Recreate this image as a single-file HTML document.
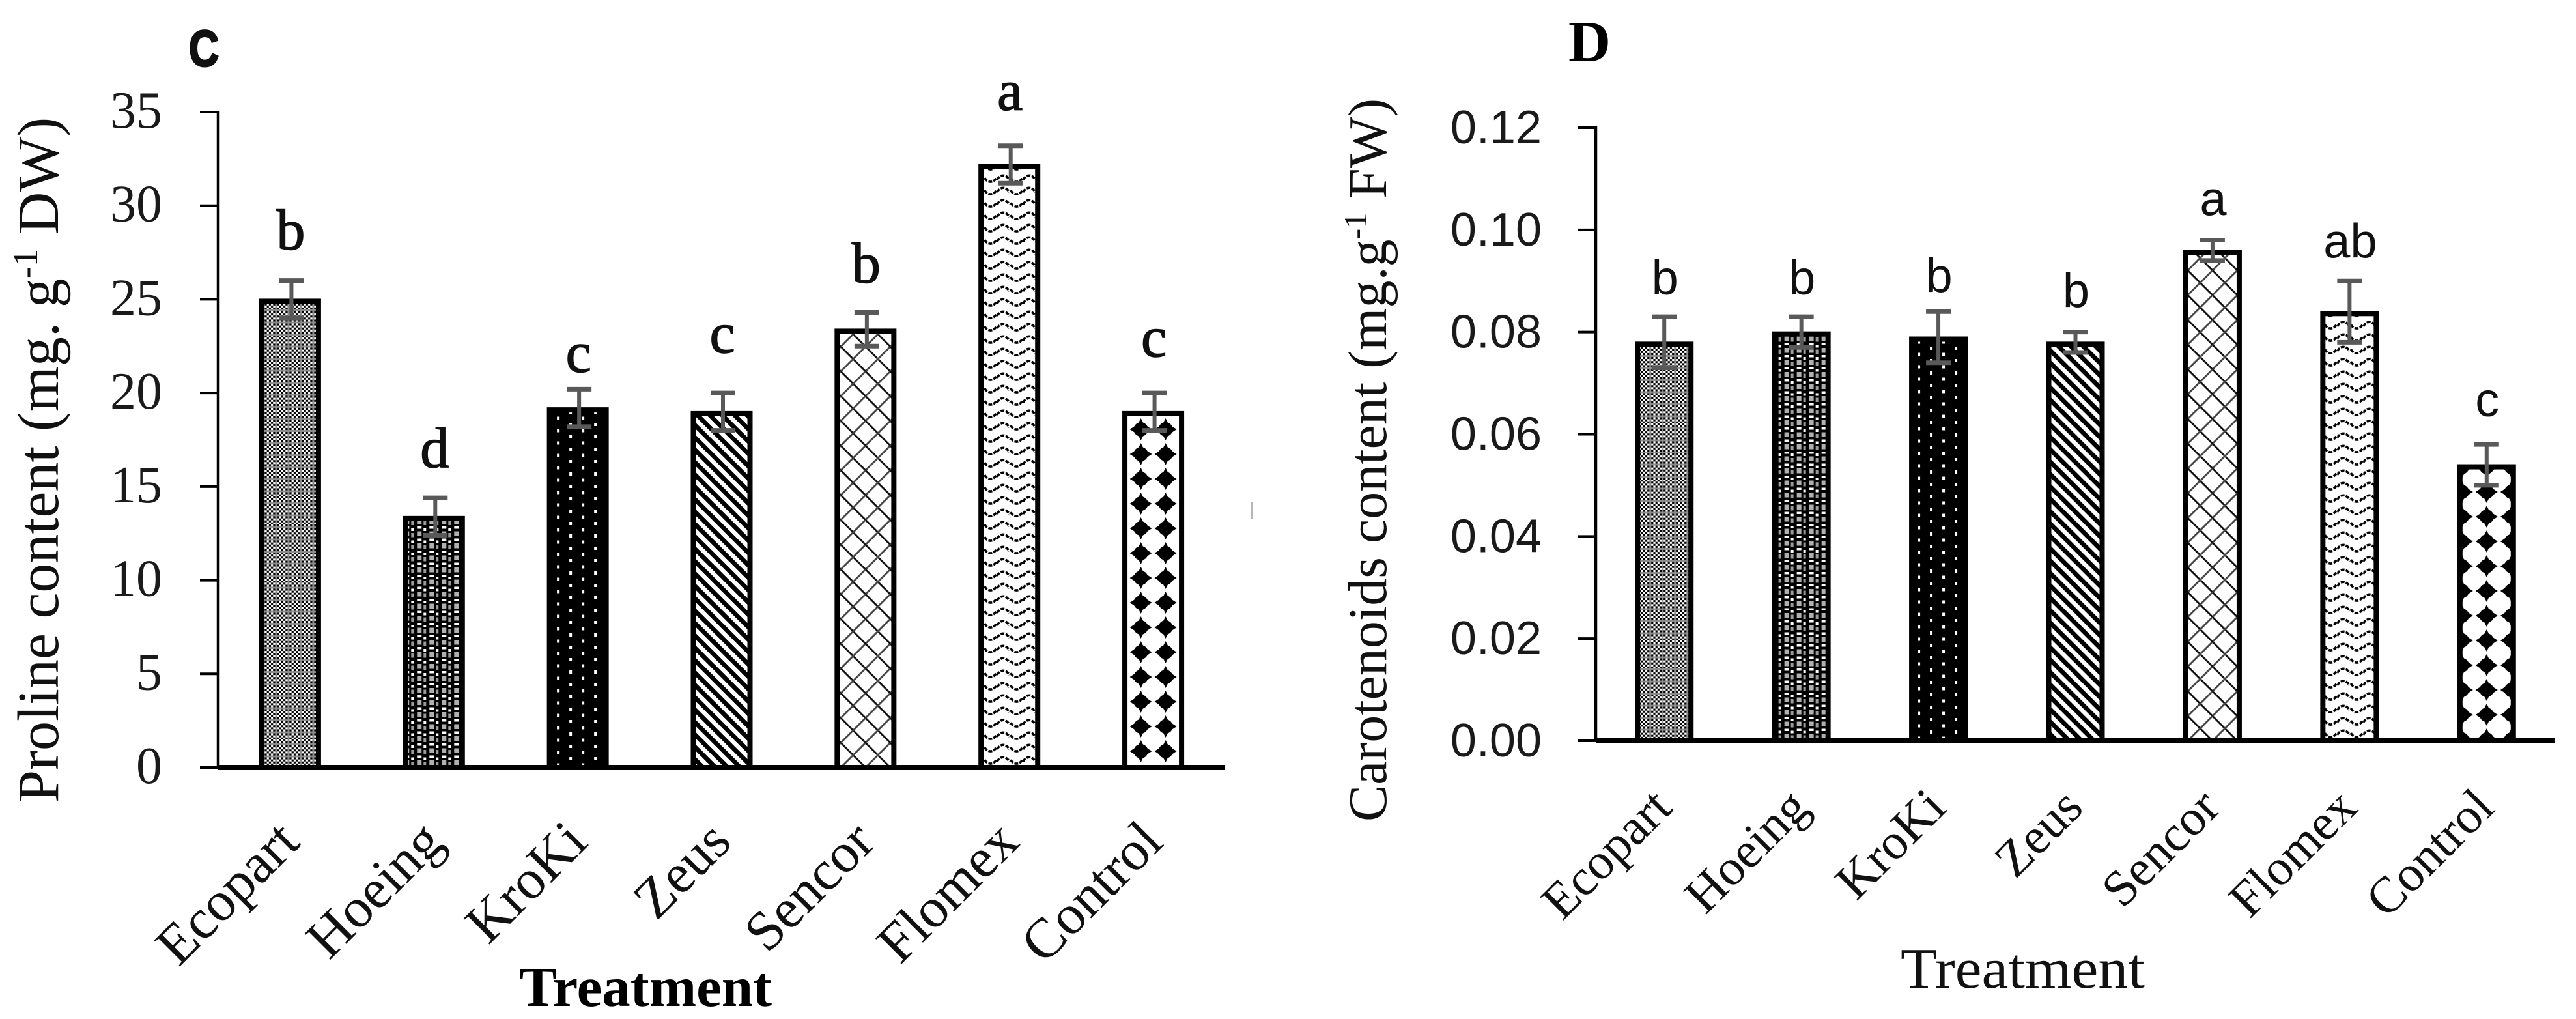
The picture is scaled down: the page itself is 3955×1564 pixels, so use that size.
<!DOCTYPE html>
<html lang="en">
<head>
<meta charset="utf-8">
<title>Proline and carotenoids content by treatment</title>
<style>
html,body{margin:0;padding:0;background:#fff;}
body{width:3955px;height:1564px;overflow:hidden;}
svg{display:block;}
.serif{font-family:"Liberation Serif",serif;}
.sans{font-family:"Liberation Sans",sans-serif;}
</style>
</head>
<body>
<svg id="figure" xmlns="http://www.w3.org/2000/svg" width="3955" height="1564" viewBox="0 0 3955 1564">
  <rect width="3955" height="1564" fill="#fff"/>
  <defs id="fills"></defs>

  <g id="chart-c">
    <text class="sans" x="290" y="101" font-size="78" font-weight="bold" textLength="46" lengthAdjust="spacingAndGlyphs" fill="#111" stroke="#111" stroke-width="3">C</text>
    <text class="serif" transform="translate(89 1232) rotate(-90)" font-size="90" fill="#111">Proline content (mg. g<tspan dy="-32" font-size="54">-1</tspan><tspan dy="32"> DW)</tspan></text>
    <text class="serif" x="797" y="1544" font-size="87" font-weight="bold" fill="#000">Treatment</text>
  </g>

  <g id="chart-d">
    <text class="serif" x="2408" y="94" font-size="90" font-weight="bold" fill="#000">D</text>
    <text class="serif" transform="translate(2128 1261) rotate(-90)" font-size="84" fill="#111">Carotenoids content (mg.g<tspan dy="-30" font-size="50">-1</tspan><tspan dy="30"> FW)</tspan></text>
    <text class="serif" x="2918" y="1516" font-size="88" textLength="375" lengthAdjust="spacingAndGlyphs" fill="#111">Treatment</text>
  </g>

  <rect x="1921" y="770" width="3" height="26" fill="#b5b5b5"/>
</svg>

<script>
const categories = ["Ecopart", "Hoeing", "KroKi", "Zeus", "Sencor", "Flomex", "Control"];

const prolineTicks = ["0", "5", "10", "15", "20", "25", "30", "35"];
const prolineValues = [25.0, 13.4, 19.2, 19.0, 23.4, 32.2, 19.0];
const prolineErrors = [1.0, 1.0, 1.0, 1.0, 0.9, 1.0, 1.0];
const prolineLetters = ["b", "d", "c", "c", "b", "a", "c"];

const carotenoidTicks = ["0.00", "0.02", "0.04", "0.06", "0.08", "0.10", "0.12"];
const carotenoidValues = [0.078, 0.080, 0.079, 0.078, 0.096, 0.084, 0.054];
const carotenoidErrors = [0.005, 0.003, 0.005, 0.002, 0.002, 0.006, 0.004];
const carotenoidLetters = ["b", "b", "b", "b", "a", "ab", "c"];

const SVG_NS = "http://www.w3.org/2000/svg";

function make(parent, tag, attrs) {
  const node = document.createElementNS(SVG_NS, tag);
  for (const key in attrs) node.setAttribute(key, attrs[key]);
  parent.appendChild(node);
  return node;
}

/* Hatch artwork, one builder per treatment */
function ecopartArt() {
  let s = '<rect width="19" height="18.5" fill="#fff"/>';
  for (let r = 0; r < 5; r++) {
    for (let c = 0; c < 5; c++) {
      if ((r + c) % 2 === 0) {
        s += '<rect x="' + (3 + c * 3.2) + '" y="' + (3 + r * 3.1) + '" width="3.2" height="3.1" fill="#000"/>';
      }
    }
  }
  s += '<rect width="3" height="18.5" fill="#8c8c8c"/><rect width="19" height="3" fill="#8c8c8c"/>';
  return { w: 19, h: 18.5, dx: -4, art: s };
}
function hoeingArt() {
  const s = '<rect width="19" height="18.5" fill="#000"/>' +
    '<rect x="0" y="0" width="7" height="3.5" fill="#fff"/>' +
    '<rect x="0" y="7.5" width="7" height="7.5" fill="#b0b0b0"/>' +
    '<rect x="10" y="3" width="4" height="4" fill="#fff"/>' +
    '<rect x="10" y="10" width="4" height="6.5" fill="#9a9a9a"/>';
  return { w: 19, h: 18.5, dx: -7, art: s };
}
function krokiArt() {
  const s = '<rect width="38" height="19" fill="#000"/>' +
    '<rect x="3" y="3" width="4" height="5" fill="#fff"/>' +
    '<rect x="22" y="12.5" width="4" height="5" fill="#fff"/>';
  return { w: 38, h: 19, dx: -16, art: s };
}
function zeusArt() {
  const s = '<rect width="19" height="19" fill="#000"/>' +
    '<path d="M-5 -5L24 24M-5 14L5 24M14 -5L24 5" stroke="#fff" stroke-width="6.5" fill="none"/>';
  return { w: 19, h: 19, dx: 0, art: s };
}
function sencorArt() {
  const s = '<rect width="38" height="38" fill="#fff"/>' +
    '<path d="M-2 -2L40 40" stroke="#111" stroke-width="2.8" fill="none"/>' +
    '<path d="M-2 40L40 -2" stroke="#444" stroke-width="2.8" fill="none"/>';
  return { w: 38, h: 38, dx: 0, art: s };
}
function flomexArt() {
  const s = '<rect width="40" height="19" fill="#fff"/>' +
    '<path d="M0 10C5 1 14 1 19 10" stroke="#000" stroke-width="3.6" fill="none" stroke-dasharray="6 2"/>' +
    '<path d="M21 7C25 15 35 15 39 7" stroke="#000" stroke-width="3.6" fill="none" stroke-dasharray="6 2"/>';
  return { w: 40, h: 19, dx: -19, art: s };
}
function controlArt() {
  const s = '<rect width="38" height="38" fill="#fff"/>' +
    '<path d="M19 2L23 10Q28 14 36 19Q28 24 23 28L19 36L15 28Q10 24 2 19Q10 14 15 10Z" fill="#000"/>' +
    '<circle cx="19" cy="19" r="11" fill="#000"/>';
  return { w: 38, h: 38, dx: -19, art: s };
}
const fillBuilders = [ecopartArt, hoeingArt, krokiArt, zeusArt, sencorArt, flomexArt, controlArt];

function addFill(defs, id, build, originX, originY) {
  const spec = build();
  const pat = make(defs, "pattern", {
    id: id,
    patternUnits: "userSpaceOnUse",
    width: spec.w,
    height: spec.h,
    patternTransform: "translate(" + (originX + spec.dx) + " " + originY + ")"
  });
  pat.innerHTML = spec.art;
}

function drawChart(c) {
  const group = document.getElementById(c.groupId);
  const defs = document.getElementById("fills");
  const tickNumbers = c.ticks.map(Number);
  const maxTick = Math.max.apply(null, tickNumbers);
  const yScale = v => c.base - (v / maxTick) * (c.base - c.top);
  const step = (c.endX - c.axisX) / categories.length;
  const xScale = i => c.axisX + (i + 0.5) * step;

  categories.forEach((name, i) => {
    const cx = xScale(i);
    const topY = yScale(c.values[i]);
    const fillId = c.key + "-fill-" + i;
    const extraX = i === 6 ? c.controlShift : 0;
    const extraY = i === 6 ? c.controlShiftY : 0;
    addFill(defs, fillId, fillBuilders[i], cx + extraX, c.base + extraY);

    const bar = make(group, "rect", {
      x: cx - c.barW / 2 + 4,
      y: topY + 3,
      width: c.barW - 8,
      height: c.base - topY - 3,
      fill: "url(#" + fillId + ")",
      stroke: "#000",
      "stroke-width": 8
    });
    
    
  });

  const baseline = make(group, "line", {
    x1: c.axisX, x2: c.endX, y1: c.base, y2: c.base, stroke: "#000", "stroke-width": 8
  });
  
  

  const axis = make(group, "line", {
    x1: c.axisX, x2: c.axisX, y1: c.top - 2, y2: c.base, stroke: "#000", "stroke-width": 4.5
  });
  
  

  c.ticks.forEach((label, i) => {
    const y = yScale(tickNumbers[i]);
    const tick = make(group, "line", {
      x1: c.axisX - 28, x2: c.axisX, y1: y, y2: y, stroke: "#000", "stroke-width": 4
    });
    
    

    const text = make(group, "text", {
      x: c.tickLabelX, y: y + 24, "text-anchor": "end",
      "font-size": c.tickFont, "font-family": c.tickFamily, fill: "#1a1a1a"
    });
    text.textContent = label;
    
    
  });

  categories.forEach((name, i) => {
    const cx = xScale(i);
    const hi = yScale(c.values[i] + c.errors[i]);
    const lo = yScale(c.values[i] - c.errors[i]);
    const ex = cx + c.errShift;

    const stem = make(group, "line", {
      x1: ex, x2: ex, y1: hi, y2: lo, stroke: "#595959", "stroke-width": 6
    });
    
    

    const capTop = make(group, "line", {
      x1: ex - 19, x2: ex + 19, y1: hi, y2: hi, stroke: "#595959", "stroke-width": 7
    });
    
    

    const capLow = make(group, "line", {
      x1: ex - 19, x2: ex + 19, y1: lo, y2: lo, stroke: "#595959", "stroke-width": 7
    });
    
    

    const letter = make(group, "text", {
      x: cx + 1, y: hi - c.letterLift[i], "text-anchor": "middle",
      "font-size": c.letterFont, "font-family": c.letterFamily,
      stroke: "#111", "stroke-width": c.letterStroke, fill: "#111"
    });
    letter.textContent = c.letters[i];
    
    

    const ax = cx + c.catShiftX;
    const cat = make(group, "text", {
      x: ax, y: c.catY, "text-anchor": "end",
      transform: "rotate(-45 " + ax + " " + c.catY + ")",
      "font-size": c.catFont, "font-family": '"Liberation Serif",serif', fill: "#111"
    });
    cat.textContent = name;
    
    
  });
}

drawChart({
  key: "proline", groupId: "chart-c",
  axisX: 335, endX: 1881, top: 172, base: 1178, barW: 95,
  ticks: prolineTicks, values: prolineValues, errors: prolineErrors, letters: prolineLetters,
  letterLift: [48, 47, 27, 62, 46, 55, 56],
  tickLabelX: 249, tickFont: 80, tickFamily: '"Liberation Serif",serif',
  letterFont: 88, letterFamily: '"Liberation Serif",serif', letterStroke: 1.5,
  catFont: 86, catShiftX: 18, catY: 1296, errShift: 2, controlShift: 19, controlShiftY: -6
});

drawChart({
  key: "carotenoids", groupId: "chart-d",
  axisX: 2450, endX: 3923, top: 196, base: 1137, barW: 90,
  ticks: carotenoidTicks, values: carotenoidValues, errors: carotenoidErrors, letters: carotenoidLetters,
  letterLift: [34, 34, 30, 38, 38, 36, 43],
  tickLabelX: 2367, tickFont: 72, tickFamily: '"Liberation Sans",sans-serif',
  letterFont: 74, letterFamily: '"Liberation Sans",sans-serif', letterStroke: 0,
  catFont: 78, catShiftX: 15, catY: 1243, errShift: 0, controlShift: 0, controlShiftY: 17
});
</script>
</body>
</html>
